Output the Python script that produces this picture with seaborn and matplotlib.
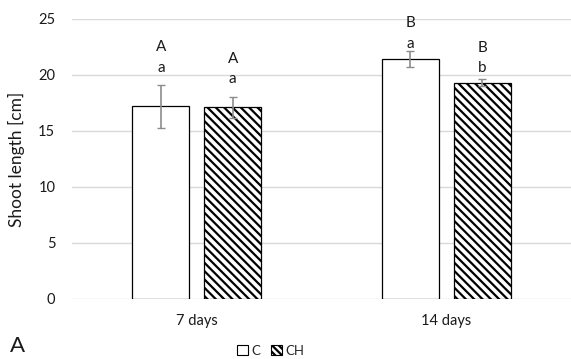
import matplotlib
matplotlib.use("Agg")
import matplotlib.pyplot as plt
from matplotlib.patches import Patch
import seaborn as sns
import pandas as pd

# ---- data ----
days = ["7 days", "7 days", "14 days", "14 days"]
treatment = ["C", "CH", "C", "CH"]
shoot_length = [17.2, 17.1, 21.4, 19.3]
sd = [1.9, 0.95, 0.7, 0.3]
upper_letters = ["A", "A", "B", "B"]
lower_letters = ["a", "a", "a", "b"]
upper_letter_y = [22.5, 21.4, 24.6, 22.4]
lower_letter_y = [20.6, 19.6, 22.8, 20.6]
y_ticks = [0, 5, 10, 15, 20, 25]

df = pd.DataFrame({"days": days, "treatment": treatment, "value": shoot_length})

sns.set_theme(style="white")
plt.rcParams["font.family"] = ["Lato", "DejaVu Sans"]
plt.rcParams["hatch.linewidth"] = 1.6
plt.rcParams["hatch.color"] = "black"

TXT = "#1a1a1a"

fig = plt.figure(figsize=(5.71, 3.59), dpi=100)
ax = fig.add_axes([72 / 571, 60 / 359, 499 / 571, 280 / 359])

sns.barplot(data=df, x="days", y="value", hue="treatment",
            order=["7 days", "14 days"], hue_order=["C", "CH"],
            palette=["white", "white"], edgecolor="black", linewidth=0.9,
            width=0.576, gap=0.21, errorbar=None, legend=False, ax=ax)

hatch = "\\\\\\\\"
for bar in ax.containers[1]:
    bar.set_hatch(hatch)

bars = {}
for ci, t in enumerate(["C", "CH"]):
    for bi, d in enumerate(["7 days", "14 days"]):
        bars[(d, t)] = ax.containers[ci][bi]

for i in range(len(shoot_length)):
    b = bars[(days[i], treatment[i])]
    xc = b.get_x() + b.get_width() / 2
    ax.errorbar(xc, shoot_length[i], yerr=sd[i], color="#8c8c8c",
                elinewidth=1.2, capsize=3, capthick=1.0, zorder=5)
    ax.text(xc, upper_letter_y[i], upper_letters[i], ha="center", va="center",
            fontsize=11, color=TXT)
    ax.text(xc, lower_letter_y[i], lower_letters[i], ha="center", va="center",
            fontsize=11, color=TXT)

ax.set_ylim(0, 25)
ax.set_xlim(-0.5, 1.5)
ax.set_yticks(y_ticks)
ax.yaxis.grid(True, color="#d9d9d9", linewidth=1)
ax.set_axisbelow(True)
for s in ax.spines.values():
    s.set_visible(False)
ax.tick_params(axis="both", length=0, labelsize=10.5, colors=TXT)
ax.tick_params(axis="x", pad=11)
ax.tick_params(axis="y", pad=12)
ax.set_xlabel("")
ax.set_ylabel("Shoot length [cm]", fontsize=12.5, color=TXT)
ax.yaxis.set_label_coords(-0.094, 0.5)

handles = [Patch(facecolor="white", edgecolor="black", linewidth=0.8),
           Patch(facecolor="white", edgecolor="black", linewidth=0.8, hatch="\\\\\\\\\\")]
fig.legend(handles, ["C", "CH"], loc="center", bbox_to_anchor=(271 / 571, 1 - 351 / 359),
           ncol=2, frameon=False, fontsize=9.5, handlelength=0.8, handleheight=0.8,
           handletextpad=0.3, columnspacing=0.8, borderpad=0)

fig.text(17 / 571, 1 - 346 / 359, "A", fontsize=16, ha="center", va="center",
         color=TXT)

fig.savefig("out.png", dpi=100)
